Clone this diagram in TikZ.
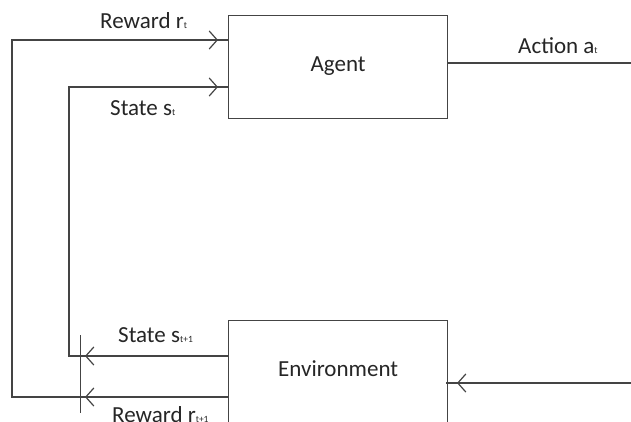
\documentclass[tikz,border=0pt]{standalone}
\usepackage{fontspec}
\setmainfont{Carlito}
\usetikzlibrary{arrows.meta,decorations.markings}
\definecolor{linec}{HTML}{444444}
\definecolor{textc}{HTML}{262626}
\newcommand\subsc[1]{{\fontsize{9.5}{9.5}\selectfont #1}}
\tikzset{
  box/.style={draw=linec, line width=1.3pt, minimum width=219pt, minimum height=103pt,
    inner sep=0pt, anchor=north west, text height=14pt, text depth=6pt,
    text=textc, font=\fontsize{23}{27}\selectfont},
  lab/.style={anchor=base west, inner sep=0pt, text=textc, font=\fontsize{23}{27}\selectfont},
  conn/.style={draw=linec, line width=1.2pt},
  chev/.tip={Straight Barb[length=8pt,width=18pt,line width=1.2pt]},
  twomarks/.style={postaction=decorate, decoration={markings,
    mark=at position 143pt with {\arrow{chev}},
    mark=at position -10pt with {\arrow{chev}}}},
  endmark/.style={postaction=decorate, decoration={markings,
    mark=at position -11pt with {\arrow{chev}}}}
}
\begin{document}
\begin{tikzpicture}[x=1pt,y=-1pt]
\useasboundingbox (0,0) rectangle (631,421);
\clip (0,0) rectangle (631,421);
\fill[white] (0,0) rectangle (631,421);

\node[box] (agent) at (228,15) {Agent};
\node[box] (env) at (228,320) {Environment};

% named points on box edges and bends
\coordinate (agR) at (228,40);
\coordinate (agS) at (228,87);
\coordinate (agA) at (447,63);
\coordinate (outA) at (640,63);
\coordinate (enS) at (228,356);
\coordinate (enR) at (228,397);
\coordinate (enA) at (446,383);
\coordinate (inA) at (640,383);
\coordinate (bendR) at (12,397);
\coordinate (bendS) at (69,356);
\coordinate (barT) at (80.5,335);
\coordinate (barB) at (80.5,413);

% reward loop
\draw[conn,twomarks] (enR) -- (bendR) |- (agR);
% state loop
\draw[conn,twomarks] (enS) -- (bendS) |- (agS);
% action
\draw[conn] (agA) -- (outA);
% action into environment
\draw[conn,endmark] (inA) -- (enA);
% junction bar
\draw[conn] (barT) -- (barB);

% labels
\node[lab] (lRt) at (100,28) {Reward r\subsc{t}};
\node[lab] (lSt) at (110,115) {State s\subsc{t}};
\node[lab] (lAt) at (518,53) {Action a\subsc{t}};
\node[lab] (lSt1) at (118,342) {State s\subsc{t+1}};
\node[lab] (lRt1) at (112,422) {Reward r\subsc{t+1}};
\end{tikzpicture}
\end{document}
